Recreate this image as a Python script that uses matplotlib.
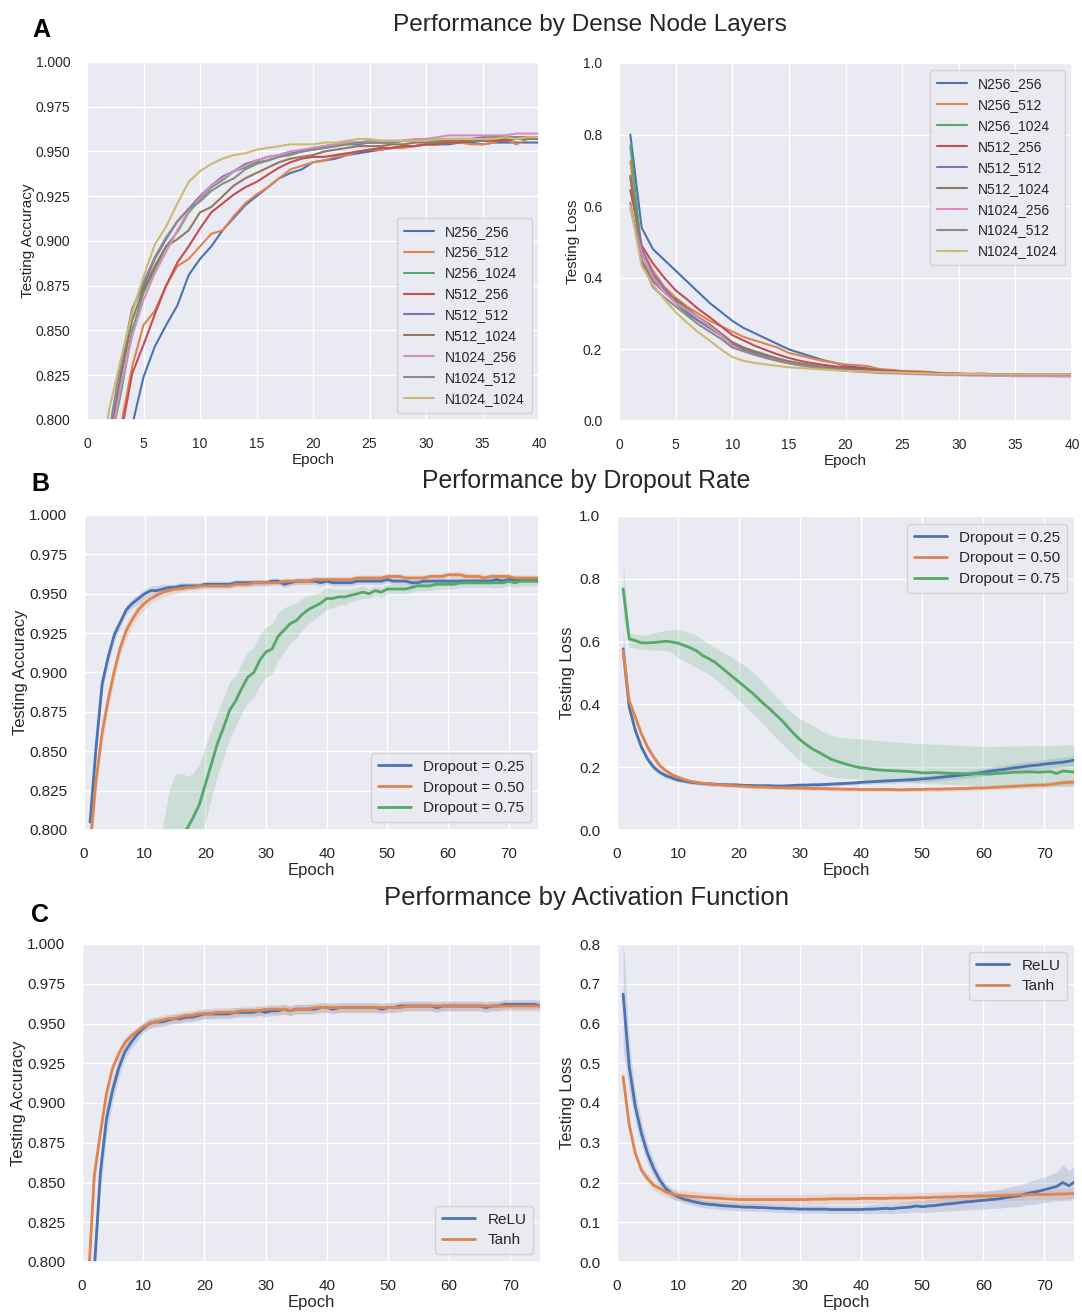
import matplotlib
matplotlib.use("Agg")
import matplotlib.pyplot as plt
import seaborn as sns
import numpy as np

# ---------------- DATA ----------------
epochs_a = list(range(1, 41))
names_a = ["N256_256", "N256_512", "N256_1024", "N512_256", "N512_512",
           "N512_1024", "N1024_256", "N1024_512", "N1024_1024"]

acc_n256_256 = [0.72, 0.76, 0.785, 0.797, 0.824, 0.841, 0.853, 0.864, 0.881, 0.890,
                0.897, 0.906, 0.913, 0.920, 0.925, 0.930, 0.935, 0.938, 0.940, 0.944,
                0.945, 0.946, 0.948, 0.949, 0.950, 0.951, 0.952, 0.953, 0.953, 0.954,
                0.954, 0.954, 0.955, 0.955, 0.954, 0.955, 0.955, 0.955, 0.955, 0.955]
acc_n256_512 = [0.74, 0.775, 0.797, 0.830, 0.853, 0.861, 0.875, 0.886, 0.890, 0.897,
                0.904, 0.906, 0.914, 0.921, 0.926, 0.930, 0.935, 0.940, 0.942, 0.944,
                0.945, 0.947, 0.948, 0.950, 0.951, 0.951, 0.952, 0.952, 0.953, 0.954,
                0.954, 0.955, 0.955, 0.954, 0.954, 0.955, 0.957, 0.954, 0.957, 0.957]
acc_n256_1024 = [0.75, 0.785, 0.815, 0.850, 0.871, 0.884, 0.897, 0.905, 0.916, 0.923,
                 0.930, 0.934, 0.939, 0.941, 0.944, 0.945, 0.947, 0.949, 0.950, 0.952,
                 0.953, 0.954, 0.955, 0.955, 0.955, 0.955, 0.955, 0.956, 0.956, 0.956,
                 0.956, 0.957, 0.957, 0.957, 0.957, 0.957, 0.958, 0.958, 0.958, 0.958]
acc_n512_256 = [0.74, 0.77, 0.792, 0.826, 0.842, 0.859, 0.875, 0.888, 0.897, 0.907,
                0.916, 0.921, 0.926, 0.930, 0.933, 0.937, 0.941, 0.944, 0.946, 0.947,
                0.947, 0.948, 0.949, 0.950, 0.951, 0.952, 0.952, 0.953, 0.953, 0.954,
                0.954, 0.955, 0.955, 0.956, 0.956, 0.956, 0.956, 0.957, 0.957, 0.957]
acc_n512_512 = [0.76, 0.79, 0.826, 0.862, 0.875, 0.890, 0.901, 0.911, 0.918, 0.925,
                0.931, 0.936, 0.939, 0.943, 0.945, 0.947, 0.948, 0.950, 0.950, 0.951,
                0.952, 0.953, 0.954, 0.954, 0.955, 0.955, 0.955, 0.956, 0.956, 0.956,
                0.957, 0.957, 0.957, 0.957, 0.958, 0.958, 0.958, 0.958, 0.958, 0.958]
acc_n512_1024 = [0.75, 0.785, 0.824, 0.856, 0.873, 0.886, 0.897, 0.901, 0.906, 0.916,
                 0.919, 0.925, 0.931, 0.935, 0.938, 0.941, 0.944, 0.946, 0.947, 0.948,
                 0.950, 0.951, 0.952, 0.953, 0.953, 0.953, 0.954, 0.954, 0.955, 0.955,
                 0.955, 0.956, 0.956, 0.956, 0.956, 0.957, 0.957, 0.957, 0.957, 0.957]
acc_n1024_256 = [0.75, 0.785, 0.819, 0.847, 0.867, 0.882, 0.894, 0.906, 0.917, 0.924,
                 0.931, 0.935, 0.939, 0.942, 0.945, 0.947, 0.948, 0.950, 0.951, 0.952,
                 0.953, 0.954, 0.955, 0.955, 0.956, 0.956, 0.956, 0.956, 0.957, 0.957,
                 0.958, 0.959, 0.959, 0.959, 0.959, 0.959, 0.959, 0.960, 0.960, 0.960]
acc_n1024_512 = [0.765, 0.795, 0.832, 0.862, 0.877, 0.891, 0.902, 0.911, 0.918, 0.922,
                 0.928, 0.932, 0.935, 0.940, 0.943, 0.945, 0.947, 0.948, 0.950, 0.951,
                 0.952, 0.953, 0.954, 0.955, 0.955, 0.955, 0.955, 0.956, 0.956, 0.956,
                 0.957, 0.957, 0.957, 0.957, 0.957, 0.958, 0.958, 0.958, 0.958, 0.958]
acc_n1024_1024 = [0.77, 0.807, 0.834, 0.860, 0.880, 0.898, 0.908, 0.921, 0.933, 0.939,
                  0.943, 0.946, 0.948, 0.949, 0.951, 0.952, 0.953, 0.954, 0.954, 0.954,
                  0.955, 0.955, 0.956, 0.957, 0.957, 0.956, 0.956, 0.956, 0.956, 0.956,
                  0.957, 0.957, 0.957, 0.957, 0.957, 0.957, 0.958, 0.957, 0.958, 0.958]

loss_n256_256 = [0.80, 0.54, 0.48, 0.45, 0.42, 0.39, 0.36, 0.33, 0.305, 0.28,
                 0.26, 0.245, 0.23, 0.215, 0.20, 0.19, 0.18, 0.17, 0.163, 0.155,
                 0.15, 0.147, 0.143, 0.14, 0.138, 0.136, 0.135, 0.134, 0.133, 0.132,
                 0.131, 0.131, 0.13, 0.13, 0.13, 0.13, 0.129, 0.129, 0.129, 0.129]
loss_n256_512 = [0.725, 0.48, 0.42, 0.375, 0.345, 0.32, 0.30, 0.28, 0.265, 0.25,
                 0.235, 0.225, 0.215, 0.205, 0.19, 0.183, 0.175, 0.168, 0.163, 0.158,
                 0.156, 0.153, 0.145, 0.143, 0.14, 0.139, 0.138, 0.135, 0.133, 0.132,
                 0.132, 0.133, 0.131, 0.131, 0.131, 0.13, 0.13, 0.13, 0.13, 0.13]
loss_n256_1024 = [0.77, 0.47, 0.40, 0.36, 0.33, 0.30, 0.28, 0.26, 0.24, 0.22,
                  0.205, 0.195, 0.185, 0.175, 0.167, 0.161, 0.156, 0.152, 0.148, 0.145,
                  0.143, 0.141, 0.139, 0.138, 0.136, 0.135, 0.134, 0.133, 0.132, 0.131,
                  0.131, 0.13, 0.13, 0.13, 0.129, 0.129, 0.129, 0.129, 0.128, 0.128]
loss_n512_256 = [0.645, 0.49, 0.44, 0.40, 0.365, 0.34, 0.313, 0.29, 0.265, 0.24,
                 0.225, 0.21, 0.198, 0.186, 0.176, 0.168, 0.162, 0.157, 0.153, 0.15,
                 0.147, 0.145, 0.142, 0.14, 0.138, 0.136, 0.135, 0.134, 0.133, 0.132,
                 0.131, 0.13, 0.13, 0.129, 0.129, 0.128, 0.128, 0.128, 0.127, 0.127]
loss_n512_512 = [0.68, 0.48, 0.41, 0.37, 0.335, 0.305, 0.28, 0.26, 0.24, 0.215,
                 0.2, 0.19, 0.18, 0.172, 0.165, 0.159, 0.154, 0.15, 0.147, 0.144,
                 0.142, 0.14, 0.138, 0.137, 0.135, 0.134, 0.133, 0.132, 0.131, 0.131,
                 0.13, 0.13, 0.129, 0.129, 0.129, 0.128, 0.128, 0.128, 0.128, 0.128]
loss_n512_1024 = [0.685, 0.45, 0.39, 0.36, 0.34, 0.315, 0.29, 0.27, 0.245, 0.22,
                  0.205, 0.193, 0.183, 0.174, 0.166, 0.16, 0.155, 0.151, 0.148, 0.145,
                  0.143, 0.141, 0.139, 0.137, 0.136, 0.135, 0.134, 0.133, 0.132, 0.131,
                  0.131, 0.13, 0.13, 0.13, 0.129, 0.129, 0.129, 0.129, 0.129, 0.129]
loss_n1024_256 = [0.593, 0.47, 0.40, 0.36, 0.33, 0.31, 0.29, 0.265, 0.24, 0.211,
                  0.195, 0.185, 0.176, 0.168, 0.161, 0.156, 0.151, 0.147, 0.143, 0.14,
                  0.138, 0.136, 0.134, 0.133, 0.132, 0.131, 0.13, 0.129, 0.128, 0.128,
                  0.127, 0.127, 0.126, 0.126, 0.125, 0.125, 0.125, 0.125, 0.124, 0.124]
loss_n1024_512 = [0.61, 0.444, 0.374, 0.345, 0.32, 0.295, 0.27, 0.25, 0.23, 0.205,
                  0.195, 0.185, 0.176, 0.168, 0.161, 0.156, 0.151, 0.147, 0.144, 0.141,
                  0.139, 0.137, 0.136, 0.135, 0.134, 0.133, 0.132, 0.131, 0.131, 0.13,
                  0.13, 0.13, 0.129, 0.129, 0.129, 0.129, 0.129, 0.129, 0.129, 0.129]
loss_n1024_1024 = [0.60, 0.434, 0.38, 0.34, 0.304, 0.275, 0.248, 0.225, 0.2, 0.179,
                   0.168, 0.162, 0.158, 0.154, 0.15, 0.148, 0.146, 0.144, 0.142, 0.14,
                   0.139, 0.138, 0.137, 0.136, 0.135, 0.134, 0.133, 0.132, 0.132, 0.131,
                   0.131, 0.131, 0.13, 0.13, 0.13, 0.13, 0.13, 0.13, 0.13, 0.13]

epochs_bc = list(range(1, 76))
names_b = ["Dropout = 0.25", "Dropout = 0.50", "Dropout = 0.75"]

acc_d025 = [0.805, 0.853, 0.893, 0.910, 0.924, 0.932, 0.940, 0.944, 0.947, 0.950,
            0.952, 0.952, 0.953, 0.954, 0.954, 0.955, 0.955, 0.955, 0.955, 0.956,
            0.956, 0.956, 0.956, 0.956, 0.957, 0.957, 0.957, 0.957, 0.957, 0.957,
            0.958, 0.958, 0.956, 0.957, 0.958, 0.958, 0.958, 0.958, 0.957, 0.958,
            0.957, 0.957, 0.957, 0.957, 0.958, 0.958, 0.958, 0.958, 0.958, 0.959,
            0.958, 0.958, 0.958, 0.957, 0.957, 0.958, 0.958, 0.958, 0.958, 0.958,
            0.958, 0.958, 0.958, 0.958, 0.958, 0.958, 0.958, 0.959, 0.958, 0.959,
            0.959, 0.959, 0.959, 0.959, 0.959]
acc_d050 = [0.790, 0.832, 0.862, 0.883, 0.901, 0.916, 0.927, 0.934, 0.940, 0.944,
            0.947, 0.949, 0.951, 0.952, 0.953, 0.953, 0.954, 0.954, 0.955, 0.955,
            0.955, 0.955, 0.955, 0.955, 0.956, 0.956, 0.956, 0.957, 0.957, 0.957,
            0.957, 0.957, 0.958, 0.958, 0.958, 0.958, 0.958, 0.959, 0.959, 0.959,
            0.959, 0.959, 0.959, 0.959, 0.960, 0.960, 0.960, 0.960, 0.960, 0.961,
            0.961, 0.961, 0.960, 0.960, 0.960, 0.960, 0.961, 0.961, 0.961, 0.962,
            0.962, 0.962, 0.961, 0.961, 0.961, 0.960, 0.961, 0.961, 0.961, 0.961,
            0.960, 0.960, 0.960, 0.960, 0.960]
acc_d075 = [0.62, 0.66, 0.69, 0.71, 0.73, 0.74, 0.75, 0.755, 0.76, 0.765,
            0.77, 0.775, 0.78, 0.785, 0.79, 0.796, 0.801, 0.808, 0.816, 0.829,
            0.842, 0.855, 0.865, 0.876, 0.882, 0.890, 0.897, 0.900, 0.908, 0.913,
            0.915, 0.923, 0.927, 0.931, 0.933, 0.937, 0.940, 0.942, 0.944, 0.947,
            0.947, 0.948, 0.948, 0.949, 0.950, 0.951, 0.950, 0.952, 0.951, 0.953,
            0.953, 0.953, 0.953, 0.954, 0.955, 0.955, 0.955, 0.956, 0.956, 0.956,
            0.956, 0.957, 0.957, 0.957, 0.957, 0.957, 0.957, 0.957, 0.957, 0.958,
            0.957, 0.958, 0.958, 0.958, 0.958]
acc_d025_ci = [0.005, 0.006, 0.005, 0.004, 0.004, 0.003, 0.003, 0.003, 0.003, 0.003,
               0.003, 0.003, 0.003, 0.002, 0.002, 0.002, 0.002, 0.002, 0.002, 0.002,
               0.002, 0.002, 0.002, 0.002, 0.002, 0.002, 0.002, 0.002, 0.002, 0.002,
               0.002, 0.002, 0.002, 0.002, 0.002, 0.002, 0.002, 0.002, 0.002, 0.002,
               0.002, 0.002, 0.002, 0.002, 0.002, 0.002, 0.002, 0.002, 0.002, 0.002,
               0.002, 0.002, 0.002, 0.002, 0.002, 0.002, 0.002, 0.002, 0.002, 0.002,
               0.002, 0.002, 0.002, 0.002, 0.002, 0.002, 0.002, 0.002, 0.002, 0.002,
               0.002, 0.002, 0.002, 0.002, 0.002]
acc_d050_ci = [0.006, 0.007, 0.007, 0.006, 0.006, 0.005, 0.005, 0.004, 0.004, 0.004,
               0.003, 0.003, 0.003, 0.003, 0.003, 0.002, 0.002, 0.002, 0.002, 0.002,
               0.002, 0.002, 0.002, 0.002, 0.002, 0.002, 0.002, 0.002, 0.002, 0.002,
               0.002, 0.002, 0.002, 0.002, 0.002, 0.002, 0.002, 0.002, 0.002, 0.002,
               0.002, 0.002, 0.002, 0.002, 0.002, 0.002, 0.002, 0.002, 0.002, 0.002,
               0.002, 0.002, 0.002, 0.002, 0.002, 0.002, 0.002, 0.002, 0.002, 0.002,
               0.002, 0.002, 0.002, 0.002, 0.002, 0.002, 0.002, 0.002, 0.002, 0.002,
               0.002, 0.002, 0.002, 0.002, 0.002]
acc_d075_ci = [0.03, 0.03, 0.03, 0.03, 0.03, 0.03, 0.03, 0.03, 0.02, 0.02,
               0.02, 0.02, 0.022, 0.04, 0.045, 0.04, 0.033, 0.028, 0.026, 0.024,
               0.022, 0.020, 0.019, 0.018, 0.016, 0.016, 0.016, 0.016, 0.016, 0.016,
               0.016, 0.015, 0.014, 0.012, 0.011, 0.010, 0.009, 0.008, 0.007, 0.007,
               0.006, 0.005, 0.005, 0.004, 0.004, 0.004, 0.003, 0.003, 0.003, 0.003,
               0.003, 0.003, 0.003, 0.003, 0.003, 0.003, 0.003, 0.003, 0.003, 0.003,
               0.003, 0.003, 0.003, 0.003, 0.003, 0.003, 0.003, 0.003, 0.003, 0.003,
               0.003, 0.003, 0.003, 0.003, 0.003]

loss_d025 = [0.577, 0.391, 0.317, 0.264, 0.226, 0.200, 0.184, 0.173, 0.166, 0.159,
             0.156, 0.152, 0.150, 0.148, 0.147, 0.146, 0.145, 0.144, 0.144, 0.143,
             0.142, 0.142, 0.141, 0.141, 0.141, 0.140, 0.140, 0.141, 0.142, 0.143,
             0.143, 0.144, 0.144, 0.145, 0.146, 0.147, 0.148, 0.149, 0.150, 0.152,
             0.153, 0.154, 0.155, 0.156, 0.157, 0.158, 0.159, 0.160, 0.161, 0.163,
             0.164, 0.166, 0.168, 0.170, 0.172, 0.174, 0.176, 0.178, 0.181, 0.184,
             0.187, 0.190, 0.192, 0.195, 0.198, 0.200, 0.203, 0.205, 0.207, 0.210,
             0.212, 0.214, 0.216, 0.219, 0.223]
loss_d050 = [0.572, 0.412, 0.359, 0.306, 0.264, 0.232, 0.205, 0.189, 0.176, 0.168,
             0.161, 0.155, 0.152, 0.149, 0.147, 0.145, 0.144, 0.142, 0.141, 0.140,
             0.139, 0.138, 0.137, 0.137, 0.136, 0.135, 0.135, 0.134, 0.134, 0.133,
             0.133, 0.132, 0.132, 0.132, 0.131, 0.131, 0.130, 0.130, 0.130, 0.129,
             0.129, 0.129, 0.129, 0.129, 0.129, 0.128, 0.128, 0.129, 0.129, 0.129,
             0.130, 0.130, 0.130, 0.131, 0.131, 0.132, 0.132, 0.133, 0.134, 0.134,
             0.135, 0.136, 0.137, 0.138, 0.139, 0.140, 0.141, 0.142, 0.143, 0.143,
             0.145, 0.148, 0.150, 0.152, 0.152]
loss_d075 = [0.768, 0.609, 0.603, 0.596, 0.596, 0.597, 0.599, 0.601, 0.599, 0.595,
             0.588, 0.580, 0.571, 0.556, 0.546, 0.535, 0.519, 0.503, 0.487, 0.471,
             0.455, 0.439, 0.421, 0.402, 0.386, 0.367, 0.349, 0.327, 0.306, 0.287,
             0.272, 0.258, 0.248, 0.237, 0.226, 0.219, 0.213, 0.207, 0.202, 0.198,
             0.196, 0.193, 0.191, 0.190, 0.189, 0.188, 0.187, 0.186, 0.184, 0.182,
             0.182, 0.183, 0.182, 0.181, 0.180, 0.180, 0.179, 0.179, 0.179, 0.179,
             0.178, 0.180, 0.181, 0.182, 0.184, 0.184, 0.185, 0.185, 0.184, 0.185,
             0.186, 0.180, 0.188, 0.186, 0.184]
loss_d025_ci = [0.07, 0.02, 0.012, 0.01, 0.01, 0.01, 0.008, 0.008, 0.007, 0.007,
                0.006, 0.006, 0.006, 0.006, 0.006, 0.006, 0.006, 0.006, 0.006, 0.006,
                0.006, 0.006, 0.006, 0.006, 0.006, 0.006, 0.006, 0.006, 0.006, 0.006,
                0.006, 0.006, 0.006, 0.006, 0.006, 0.006, 0.006, 0.006, 0.007, 0.007,
                0.007, 0.007, 0.007, 0.008, 0.008, 0.008, 0.008, 0.009, 0.009, 0.009,
                0.010, 0.010, 0.010, 0.010, 0.011, 0.011, 0.011, 0.012, 0.012, 0.012,
                0.012, 0.013, 0.013, 0.013, 0.013, 0.014, 0.014, 0.014, 0.014, 0.015,
                0.015, 0.015, 0.015, 0.015, 0.015]
loss_d050_ci = [0.02, 0.012, 0.012, 0.012, 0.011, 0.01, 0.009, 0.008, 0.007, 0.007,
                0.006, 0.006, 0.006, 0.006, 0.006, 0.006, 0.006, 0.006, 0.006, 0.006,
                0.006, 0.006, 0.006, 0.006, 0.006, 0.006, 0.006, 0.006, 0.006, 0.006,
                0.006, 0.006, 0.006, 0.006, 0.006, 0.006, 0.006, 0.006, 0.006, 0.006,
                0.006, 0.006, 0.006, 0.006, 0.006, 0.006, 0.006, 0.006, 0.006, 0.006,
                0.007, 0.007, 0.007, 0.007, 0.007, 0.007, 0.007, 0.008, 0.008, 0.008,
                0.008, 0.008, 0.008, 0.008, 0.008, 0.009, 0.009, 0.009, 0.009, 0.009,
                0.009, 0.009, 0.010, 0.010, 0.010]
loss_d075_lo = [0.678, 0.583, 0.580, 0.575, 0.574, 0.573, 0.573, 0.572, 0.565, 0.548,
                0.538, 0.528, 0.518, 0.507, 0.497, 0.482, 0.466, 0.449, 0.431, 0.412,
                0.394, 0.375, 0.355, 0.335, 0.314, 0.294, 0.275, 0.256, 0.237, 0.220,
                0.206, 0.194, 0.184, 0.176, 0.170, 0.167, 0.165, 0.164, 0.163, 0.162,
                0.161, 0.160, 0.159, 0.158, 0.157, 0.156, 0.155, 0.153, 0.150, 0.148,
                0.147, 0.147, 0.146, 0.146, 0.145, 0.145, 0.144, 0.143, 0.142, 0.142,
                0.141, 0.141, 0.141, 0.141, 0.141, 0.141, 0.141, 0.140, 0.140, 0.140,
                0.140, 0.139, 0.139, 0.139, 0.139]
loss_d075_hi = [0.859, 0.627, 0.624, 0.620, 0.622, 0.627, 0.632, 0.636, 0.638, 0.638,
                0.634, 0.628, 0.620, 0.607, 0.593, 0.582, 0.571, 0.560, 0.548, 0.535,
                0.522, 0.506, 0.489, 0.468, 0.446, 0.426, 0.406, 0.386, 0.368, 0.354,
                0.343, 0.333, 0.322, 0.311, 0.302, 0.297, 0.294, 0.292, 0.291, 0.290,
                0.288, 0.286, 0.284, 0.283, 0.282, 0.280, 0.279, 0.277, 0.276, 0.275,
                0.274, 0.273, 0.273, 0.272, 0.271, 0.270, 0.269, 0.268, 0.267, 0.266,
                0.266, 0.266, 0.267, 0.267, 0.268, 0.268, 0.268, 0.269, 0.269, 0.269,
                0.269, 0.270, 0.271, 0.272, 0.272]

names_c = ["ReLU", "Tanh"]
acc_relu = [0.74, 0.795, 0.856, 0.890, 0.908, 0.922, 0.932, 0.938, 0.943, 0.947,
            0.950, 0.951, 0.951, 0.952, 0.953, 0.953, 0.954, 0.954, 0.955, 0.956,
            0.956, 0.956, 0.956, 0.956, 0.957, 0.957, 0.957, 0.957, 0.958, 0.957,
            0.958, 0.958, 0.959, 0.958, 0.959, 0.959, 0.959, 0.959, 0.960, 0.960,
            0.959, 0.960, 0.960, 0.960, 0.960, 0.960, 0.960, 0.960, 0.959, 0.960,
            0.960, 0.961, 0.961, 0.961, 0.961, 0.961, 0.961, 0.960, 0.961, 0.961,
            0.961, 0.961, 0.961, 0.961, 0.961, 0.960, 0.961, 0.961, 0.962, 0.962,
            0.962, 0.962, 0.962, 0.962, 0.961]
acc_tanh = [0.785, 0.854, 0.881, 0.906, 0.922, 0.931, 0.938, 0.942, 0.945, 0.948,
            0.950, 0.951, 0.952, 0.953, 0.953, 0.954, 0.955, 0.955, 0.956, 0.956,
            0.956, 0.957, 0.957, 0.957, 0.957, 0.958, 0.958, 0.958, 0.958, 0.959,
            0.959, 0.959, 0.959, 0.958, 0.959, 0.959, 0.959, 0.960, 0.960, 0.960,
            0.960, 0.960, 0.960, 0.960, 0.960, 0.960, 0.960, 0.960, 0.960, 0.960,
            0.960, 0.960, 0.961, 0.961, 0.961, 0.961, 0.961, 0.961, 0.961, 0.961,
            0.961, 0.961, 0.961, 0.961, 0.961, 0.961, 0.961, 0.961, 0.961, 0.961,
            0.961, 0.961, 0.961, 0.961, 0.961]
acc_relu_ci = [0.02, 0.015, 0.012, 0.01, 0.008, 0.006, 0.005, 0.004, 0.004, 0.003,
               0.003, 0.003, 0.003, 0.003, 0.003, 0.003, 0.003, 0.003, 0.003, 0.003,
               0.003, 0.003, 0.003, 0.003, 0.003, 0.003, 0.003, 0.003, 0.003, 0.003,
               0.003, 0.003, 0.003, 0.003, 0.003, 0.003, 0.003, 0.003, 0.003, 0.003,
               0.003, 0.003, 0.003, 0.003, 0.003, 0.003, 0.003, 0.003, 0.003, 0.003,
               0.003, 0.003, 0.003, 0.003, 0.003, 0.003, 0.003, 0.003, 0.003, 0.003,
               0.003, 0.003, 0.003, 0.003, 0.003, 0.003, 0.003, 0.003, 0.003, 0.003,
               0.003, 0.003, 0.003, 0.003, 0.003]
acc_tanh_ci = [0.01, 0.006, 0.005, 0.004, 0.003, 0.003, 0.003, 0.003, 0.003, 0.003,
               0.003, 0.003, 0.003, 0.003, 0.003, 0.003, 0.003, 0.003, 0.003, 0.003,
               0.003, 0.003, 0.003, 0.003, 0.003, 0.003, 0.003, 0.003, 0.003, 0.003,
               0.003, 0.003, 0.003, 0.003, 0.003, 0.003, 0.003, 0.003, 0.003, 0.003,
               0.003, 0.003, 0.003, 0.003, 0.003, 0.003, 0.003, 0.003, 0.003, 0.003,
               0.003, 0.003, 0.003, 0.003, 0.003, 0.003, 0.003, 0.003, 0.003, 0.003,
               0.003, 0.003, 0.003, 0.003, 0.003, 0.003, 0.003, 0.003, 0.003, 0.003,
               0.003, 0.003, 0.003, 0.003, 0.003]

loss_relu = [0.674, 0.492, 0.391, 0.324, 0.273, 0.235, 0.206, 0.185, 0.172, 0.164,
             0.158, 0.154, 0.150, 0.147, 0.145, 0.144, 0.142, 0.141, 0.140, 0.139,
             0.138, 0.138, 0.137, 0.137, 0.136, 0.135, 0.135, 0.134, 0.134, 0.133,
             0.133, 0.133, 0.133, 0.133, 0.132, 0.132, 0.132, 0.132, 0.132, 0.132,
             0.133, 0.133, 0.134, 0.135, 0.134, 0.136, 0.137, 0.138, 0.141, 0.139,
             0.141, 0.142, 0.144, 0.146, 0.147, 0.149, 0.151, 0.152, 0.154, 0.155,
             0.157, 0.158, 0.160, 0.163, 0.165, 0.167, 0.172, 0.175, 0.178, 0.182,
             0.186, 0.190, 0.200, 0.192, 0.202]
loss_tanh = [0.466, 0.345, 0.273, 0.231, 0.210, 0.193, 0.185, 0.176, 0.172, 0.168,
             0.167, 0.165, 0.164, 0.163, 0.162, 0.161, 0.160, 0.159, 0.158, 0.157,
             0.157, 0.157, 0.157, 0.157, 0.157, 0.157, 0.157, 0.157, 0.157, 0.157,
             0.157, 0.158, 0.158, 0.158, 0.159, 0.159, 0.159, 0.159, 0.159, 0.160,
             0.160, 0.160, 0.160, 0.160, 0.161, 0.161, 0.161, 0.161, 0.162, 0.162,
             0.162, 0.163, 0.163, 0.164, 0.164, 0.165, 0.165, 0.165, 0.166, 0.166,
             0.166, 0.167, 0.167, 0.168, 0.168, 0.169, 0.169, 0.170, 0.170, 0.170,
             0.170, 0.171, 0.171, 0.172, 0.172]
loss_relu_ci = [0.14, 0.06, 0.04, 0.03, 0.025, 0.02, 0.015, 0.012, 0.012, 0.011,
                0.01, 0.01, 0.01, 0.01, 0.01, 0.01, 0.01, 0.01, 0.01, 0.01,
                0.01, 0.01, 0.01, 0.01, 0.01, 0.01, 0.01, 0.01, 0.01, 0.01,
                0.01, 0.01, 0.01, 0.01, 0.01, 0.01, 0.01, 0.01, 0.01, 0.01,
                0.011, 0.011, 0.012, 0.012, 0.013, 0.013, 0.014, 0.014, 0.015, 0.015,
                0.016, 0.016, 0.017, 0.018, 0.018, 0.019, 0.02, 0.02, 0.021, 0.022,
                0.022, 0.023, 0.024, 0.025, 0.026, 0.027, 0.028, 0.03, 0.031, 0.032,
                0.034, 0.036, 0.045, 0.038, 0.04]
loss_tanh_ci = [0.02, 0.015, 0.012, 0.012, 0.012, 0.012, 0.013, 0.013, 0.013, 0.013,
                0.013, 0.013, 0.013, 0.013, 0.013, 0.013, 0.013, 0.013, 0.013, 0.013,
                0.013, 0.013, 0.013, 0.013, 0.013, 0.013, 0.013, 0.013, 0.013, 0.013,
                0.013, 0.013, 0.013, 0.013, 0.013, 0.013, 0.013, 0.013, 0.013, 0.013,
                0.013, 0.013, 0.013, 0.013, 0.013, 0.013, 0.013, 0.013, 0.013, 0.013,
                0.013, 0.013, 0.013, 0.013, 0.013, 0.013, 0.013, 0.013, 0.013, 0.013,
                0.013, 0.013, 0.013, 0.013, 0.013, 0.013, 0.013, 0.013, 0.013, 0.013,
                0.013, 0.013, 0.013, 0.013, 0.013]

row_titles = ["Performance by Dense Node Layers", "Performance by Dropout Rate",
              "Performance by Activation Function"]
panel_letters = ["A", "B", "C"]

# ---------------- STYLE ----------------
sns.set_theme(style="darkgrid")
plt.rcParams["font.family"] = ["Liberation Sans", "DejaVu Sans"]
palette = sns.color_palette("deep")
text_col = "#262626"

W, H = 1082, 1313
fig = plt.figure(figsize=(W / 100, H / 100), dpi=100)


def add_ax(l, t, r, b):
    return fig.add_axes([l / W, 1 - b / H, (r - l) / W, (b - t) / H])


def style_ax(ax, xlim, xticks, ylim, yticks, yfmt, ylabel, fs_tick, fs_lab, lp):
    ax.set_xlim(*xlim)
    ax.set_xticks(xticks)
    ax.set_ylim(*ylim)
    ax.set_yticks(yticks)
    ax.set_yticklabels([yfmt % v for v in yticks])
    ax.tick_params(labelsize=fs_tick, colors=text_col, pad=6)
    ax.set_xlabel("Epoch", fontsize=fs_lab, color=text_col, labelpad=2)
    ax.set_ylabel(ylabel, fontsize=fs_lab, color=text_col, labelpad=lp)


# ---- Row A ----
acc_a = [acc_n256_256, acc_n256_512, acc_n256_1024, acc_n512_256, acc_n512_512,
         acc_n512_1024, acc_n1024_256, acc_n1024_512, acc_n1024_1024]
loss_a = [loss_n256_256, loss_n256_512, loss_n256_1024, loss_n512_256, loss_n512_512,
          loss_n512_1024, loss_n1024_256, loss_n1024_512, loss_n1024_1024]

ax = add_ax(87, 62, 539, 420)
for i, (nm, ys) in enumerate(zip(names_a, acc_a)):
    ax.plot(epochs_a, ys, color=palette[i], lw=1.5, label=nm)
style_ax(ax, (0, 40), range(0, 41, 5), (0.8, 1.0), np.arange(0.8, 1.0001, 0.025),
         "%.3f", "Testing Accuracy", 10, 11, 0)
ax.legend(loc="lower right", fontsize=10, handlelength=2.2, borderpad=0.5,
          labelspacing=0.5)

ax = add_ax(619, 63, 1072, 421)
for i, (nm, ys) in enumerate(zip(names_a, loss_a)):
    ax.plot(epochs_a, ys, color=palette[i], lw=1.5, label=nm)
style_ax(ax, (0, 40), range(0, 41, 5), (0.0, 1.0), np.arange(0, 1.0001, 0.2),
         "%.1f", "Testing Loss", 10, 11, 2)
ax.legend(loc="upper right", fontsize=10, handlelength=2.2, borderpad=0.5,
          labelspacing=0.5)

# ---- Row B ----
ep = np.array(epochs_bc)
ax = add_ax(84, 515, 539, 830)
for i, (nm, ys, ci) in enumerate(zip(names_b, [acc_d025, acc_d050, acc_d075],
                                     [acc_d025_ci, acc_d050_ci, acc_d075_ci])):
    ys = np.array(ys); ci = np.array(ci)
    ax.fill_between(ep, ys - ci, ys + ci, color=palette[i], alpha=0.2, lw=0)
    ax.plot(ep, ys, color=palette[i], lw=2, label=nm)
style_ax(ax, (0, 75), range(0, 71, 10), (0.8, 1.0), np.arange(0.8, 1.0001, 0.025),
         "%.3f", "Testing Accuracy", 11, 12, 1)
ax.legend(loc="lower right", fontsize=11, handlelength=2.2, borderpad=0.45,
          labelspacing=0.45)

ax = add_ax(617, 516, 1075, 830)
los = [np.array(loss_d025) - np.array(loss_d025_ci),
       np.array(loss_d050) - np.array(loss_d050_ci), np.array(loss_d075_lo)]
his = [np.array(loss_d025) + np.array(loss_d025_ci),
       np.array(loss_d050) + np.array(loss_d050_ci), np.array(loss_d075_hi)]
for i, (nm, ys) in enumerate(zip(names_b, [loss_d025, loss_d050, loss_d075])):
    ax.fill_between(ep, los[i], his[i], color=palette[i], alpha=0.2, lw=0)
    ax.plot(ep, ys, color=palette[i], lw=2, label=nm)
style_ax(ax, (0, 75), range(0, 71, 10), (0.0, 1.0), np.arange(0, 1.0001, 0.2),
         "%.1f", "Testing Loss", 11, 12, 3)
ax.legend(loc="upper right", fontsize=11, handlelength=2.2, borderpad=0.45,
          labelspacing=0.45)

# ---- Row C ----
ax = add_ax(82, 944, 541, 1262)
for i, (nm, ys, ci) in enumerate(zip(names_c, [acc_relu, acc_tanh],
                                     [acc_relu_ci, acc_tanh_ci])):
    ys = np.array(ys); ci = np.array(ci)
    ax.fill_between(ep, ys - ci, ys + ci, color=palette[i], alpha=0.2, lw=0)
    ax.plot(ep, ys, color=palette[i], lw=2, label=nm)
style_ax(ax, (0, 75), range(0, 71, 10), (0.8, 1.0), np.arange(0.8, 1.0001, 0.025),
         "%.3f", "Testing Accuracy", 11, 12, 1)
ax.legend(loc="lower right", fontsize=11, handlelength=2.2, borderpad=0.45,
          labelspacing=0.45)

ax = add_ax(617, 944, 1075, 1262)
for i, (nm, ys, ci) in enumerate(zip(names_c, [loss_relu, loss_tanh],
                                     [loss_relu_ci, loss_tanh_ci])):
    ys = np.array(ys); ci = np.array(ci)
    ax.fill_between(ep, ys - ci, ys + ci, color=palette[i], alpha=0.2, lw=0)
    ax.plot(ep, ys, color=palette[i], lw=2, label=nm)
style_ax(ax, (0, 75), range(0, 71, 10), (0.0, 0.8), np.arange(0, 0.8001, 0.1),
         "%.1f", "Testing Loss", 11, 12, 3)
ax.legend(loc="upper right", fontsize=11, handlelength=2.2, borderpad=0.45,
          labelspacing=0.45)

# ---- titles & letters ----
for (txt, x, y, fs) in zip(row_titles, [590, 586, 586], [25, 481, 898],
                           [17.6, 17.8, 18.5]):
    fig.text(x / W, 1 - y / H, txt, ha="center", va="center", fontsize=fs,
             color=text_col)
for (lt, x, y) in zip(panel_letters, [41, 40, 40], [30, 484, 915]):
    fig.text(x / W, 1 - y / H, lt, ha="center", va="center", fontsize=18,
             fontweight="bold", color="black")

fig.savefig("out.png", dpi=100)
